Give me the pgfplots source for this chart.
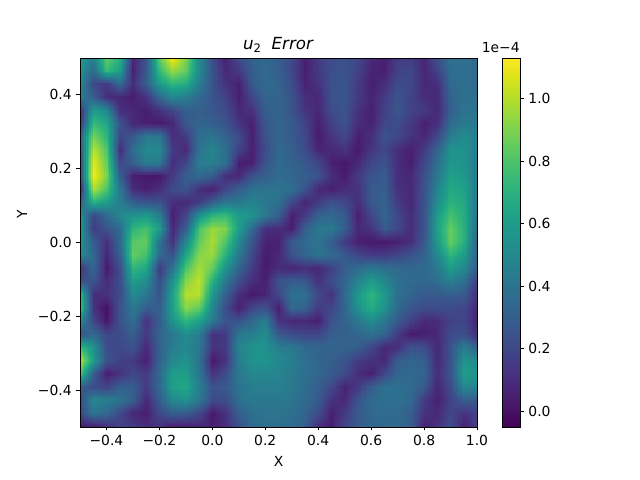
\documentclass[border=0pt]{standalone}
\usepackage{fontspec}
\setmainfont{DejaVu Sans}
\usepackage{pgfplots}
\pgfplotsset{compat=1.18}
\usepgfplotslibrary{patchplots}
\begin{document}
\begin{tikzpicture}[x=1pt,y=1pt]
\useasboundingbox (0,0) rectangle (460.8,345.6);
\begin{axis}[
  at={(57.6pt,38.16pt)},anchor=south west,
  scale only axis,width=285.84pt,height=265.68pt,
  view={0}{90},
  xmin=-0.5,xmax=1.0,ymin=-0.5,ymax=0.5,
  xtick={-0.4,-0.2,0,0.2,0.4,0.6,0.8,1.0},
  xticklabels={−0.4,−0.2,0.0,0.2,0.4,0.6,0.8,1.0},
  ytick={-0.4,-0.2,0,0.2,0.4},
  yticklabels={−0.4,−0.2,0.0,0.2,0.4},
  tick align=outside,tick pos=left,
  major tick length=2.52pt,
  tick style={black,line width=0.6pt},
  axis line style={line width=0.6pt},
  tick label style={font=\fontsize{10}{12}\selectfont},
  colormap name=viridis,
  point meta min=-0.05,point meta max=1.13,
  axis on top,
  colorbar,
  colorbar style={
    at={(1.063,0)},anchor=south west,
    width=12.96pt,height=265.68pt,
    ytick={0,0.2,0.4,0.6,0.8,1.0},
    yticklabels={0.0,0.2,0.4,0.6,0.8,1.0},
    tick pos=right,tick align=outside,major tick length=2.52pt,
    tick style={black,line width=0.6pt},
    axis line style={line width=0.6pt},
    yticklabel style={font=\fontsize{10}{12}\selectfont},
  },
]
\addplot3[surf,shader=interp,patch type=bilinear,mesh/rows=29,mesh/cols=31]
 table[row sep=\\,x expr={(\coordindex-31*floor((\coordindex+0.5)/31))/30*1.5-0.5},y expr={0.5-floor((\coordindex+0.5)/31)/28},z=z]{
z\\
.62\\.45\\.85\\.7\\.08\\.25\\.85\\1.13\\.9\\.5\\.22\\.05\\.22\\.32\\.36\\.3\\.2\\.05\\.15\\.22\\.24\\.2\\.08\\.05\\.15\\.15\\.07\\.25\\.38\\.38\\.35\\
.55\\.35\\.75\\.6\\.05\\.28\\.75\\.95\\.85\\.5\\.25\\.08\\.15\\.3\\.35\\.3\\.2\\.05\\.15\\.23\\.25\\.18\\.07\\.05\\.18\\.2\\.07\\.18\\.37\\.38\\.35\\
.5\\.2\\.15\\.35\\.1\\.3\\.6\\.72\\.68\\.45\\.25\\.12\\.05\\.28\\.35\\.32\\.22\\.06\\.12\\.24\\.26\\.15\\.05\\.1\\.22\\.2\\.08\\.1\\.35\\.38\\.35\\
.45\\.3\\.1\\.08\\.05\\.12\\.35\\.5\\.45\\.35\\.25\\.18\\.05\\.2\\.33\\.33\\.25\\.1\\.08\\.24\\.26\\.15\\.06\\.15\\.25\\.18\\.1\\.08\\.33\\.38\\.37\\
.1\\.6\\.5\\.1\\.08\\.05\\.12\\.2\\.3\\.3\\.27\\.22\\.08\\.12\\.3\\.32\\.25\\.13\\.08\\.22\\.25\\.12\\.05\\.17\\.27\\.18\\.15\\.08\\.3\\.4\\.38\\
.1\\.75\\.65\\.25\\.08\\.05\\.03\\.08\\.27\\.33\\.3\\.25\\.12\\.05\\.27\\.33\\.28\\.18\\.05\\.18\\.25\\.1\\.06\\.2\\.22\\.15\\.05\\.1\\.35\\.43\\.42\\
.3\\.9\\.72\\.2\\.28\\.42\\.42\\.1\\.15\\.38\\.4\\.32\\.22\\.05\\.25\\.33\\.28\\.2\\.03\\.13\\.2\\.05\\.1\\.25\\.2\\.12\\.08\\.2\\.45\\.52\\.45\\
.25\\1.02\\.8\\.1\\.38\\.5\\.5\\.15\\.08\\.4\\.48\\.38\\.18\\.05\\.22\\.35\\.3\\.22\\.07\\.08\\.12\\.03\\.13\\.2\\.1\\.05\\.15\\.32\\.55\\.55\\.45\\
.2\\1.1\\.85\\.2\\.3\\.45\\.42\\.1\\.2\\.45\\.45\\.38\\.05\\.05\\.25\\.35\\.32\\.27\\.2\\.05\\.03\\.08\\.2\\.25\\.1\\.05\\.2\\.38\\.58\\.55\\.42\\
.2\\1.13\\.9\\.3\\.05\\.03\\.03\\.15\\.3\\.35\\.3\\.1\\.08\\.25\\.3\\.36\\.33\\.3\\.25\\.1\\.03\\.15\\.25\\.28\\.1\\.08\\.23\\.42\\.62\\.58\\.42\\
.05\\1.0\\.8\\.42\\.1\\.05\\.1\\.22\\.25\\.1\\.05\\.2\\.3\\.38\\.4\\.4\\.37\\.25\\.08\\.05\\.1\\.12\\.28\\.3\\.12\\.08\\.25\\.48\\.66\\.62\\.42\\
.3\\.7\\.6\\.45\\.3\\.25\\.25\\.1\\.08\\.15\\.3\\.42\\.42\\.48\\.42\\.38\\.2\\.07\\.15\\.25\\.2\\.1\\.27\\.32\\.15\\.08\\.25\\.52\\.7\\.66\\.4\\
.55\\.2\\.35\\.5\\.55\\.6\\.45\\.05\\.2\\.55\\.72\\.75\\.6\\.55\\.42\\.3\\.05\\.15\\.32\\.35\\.28\\.05\\.2\\.33\\.2\\.1\\.25\\.6\\.78\\.68\\.38\\
.6\\.15\\.25\\.35\\.72\\.78\\.6\\.08\\.3\\.8\\.95\\.9\\.6\\.35\\.1\\.1\\.05\\.3\\.42\\.42\\.3\\.08\\.12\\.28\\.2\\.1\\.25\\.62\\.85\\.7\\.35\\
.55\\.3\\.1\\.35\\.82\\.85\\.38\\.12\\.5\\.85\\.98\\.8\\.5\\.25\\.06\\.05\\.28\\.35\\.4\\.3\\.15\\.05\\.03\\.03\\.05\\.1\\.28\\.58\\.85\\.7\\.3\\
.5\\.35\\.08\\.3\\.85\\.78\\.35\\.25\\.65\\.92\\.95\\.7\\.42\\.2\\.03\\.08\\.25\\.33\\.4\\.35\\.28\\.2\\.15\\.15\\.2\\.25\\.32\\.5\\.72\\.6\\.3\\
.1\\.35\\.03\\.22\\.72\\.65\\.15\\.4\\.8\\.98\\.85\\.55\\.33\\.15\\.03\\.1\\.07\\.1\\.07\\.18\\.3\\.36\\.42\\.38\\.35\\.34\\.35\\.42\\.6\\.5\\.28\\
.25\\.25\\.1\\.22\\.6\\.52\\.22\\.55\\.92\\1.02\\.7\\.42\\.22\\.1\\.05\\.25\\.3\\.28\\.12\\.22\\.33\\.48\\.6\\.5\\.38\\.36\\.34\\.37\\.45\\.38\\.15\\
.75\\.1\\.12\\.22\\.5\\.42\\.25\\.62\\1.0\\1.0\\.58\\.3\\.1\\.03\\.07\\.2\\.38\\.38\\.2\\.12\\.35\\.58\\.72\\.58\\.38\\.32\\.28\\.28\\.3\\.28\\.1\\
.8\\.12\\0\\.25\\.42\\.3\\.3\\.62\\.92\\.85\\.5\\.22\\.05\\.2\\.25\\.05\\.35\\.32\\.15\\.2\\.33\\.55\\.68\\.55\\.35\\.26\\.22\\.22\\.22\\.2\\.08\\
.5\\.2\\.02\\.25\\.38\\.12\\.3\\.55\\.72\\.62\\.42\\.25\\.25\\.35\\.45\\.12\\.08\\.08\\.05\\.25\\.32\\.42\\.52\\.42\\.28\\.18\\.08\\.1\\.18\\.2\\.05\\
.25\\.35\\.2\\.22\\.3\\.15\\.32\\.42\\.52\\.45\\.12\\.15\\.42\\.45\\.52\\.28\\.22\\.2\\.2\\.3\\.3\\.33\\.38\\.33\\.15\\.03\\.05\\.08\\.22\\.22\\.1\\
.75\\.55\\.22\\.2\\.25\\.08\\.32\\.45\\.5\\.42\\.12\\.15\\.48\\.55\\.55\\.45\\.42\\.35\\.33\\.33\\.32\\.3\\.2\\.08\\.1\\.25\\.22\\.08\\.25\\.45\\.3\\
1.0\\.6\\.25\\.18\\.15\\.05\\.32\\.5\\.55\\.4\\.03\\.12\\.45\\.55\\.55\\.5\\.45\\.38\\.33\\.3\\.25\\.15\\.12\\.08\\.3\\.33\\.3\\.08\\.25\\.55\\.5\\
.8\\.3\\.05\\.12\\.2\\.15\\.35\\.6\\.6\\.42\\.12\\.22\\.42\\.5\\.5\\.48\\.43\\.38\\.33\\.28\\.22\\.1\\.05\\.2\\.33\\.35\\.32\\.1\\.25\\.6\\.55\\
.3\\.22\\.18\\.3\\.3\\.15\\.35\\.62\\.65\\.45\\.25\\.28\\.4\\.45\\.45\\.45\\.42\\.37\\.3\\.2\\.06\\.15\\.3\\.38\\.38\\.35\\.28\\.07\\.22\\.5\\.48\\
.2\\.5\\.45\\.4\\.3\\.08\\.3\\.5\\.55\\.42\\.22\\.22\\.38\\.42\\.42\\.42\\.4\\.35\\.28\\.12\\.08\\.25\\.35\\.38\\.38\\.35\\.15\\.05\\.18\\.3\\.28\\
.2\\.4\\.35\\.2\\.08\\.05\\.2\\.3\\.28\\.2\\.03\\.12\\.3\\.38\\.4\\.4\\.38\\.33\\.22\\.05\\.15\\.28\\.35\\.36\\.36\\.3\\.12\\.08\\.2\\.12\\.18\\
.03\\.05\\.1\\.18\\.15\\.1\\.12\\.05\\.05\\.08\\.05\\.1\\.25\\.35\\.38\\.38\\.35\\.3\\.1\\.05\\.2\\.28\\.33\\.35\\.35\\.3\\.05\\.12\\.22\\.06\\.18\\
};
\end{axis}
\node[font=\fontsize{12}{14}\selectfont,anchor=base,inner sep=0pt] at (200.2,310) {\itshape u\raisebox{-0.35ex}{\fontsize{8.4}{9}\selectfont\upshape 2}\ \ Error};
\node[font=\fontsize{10}{12}\selectfont,anchor=base,inner sep=0pt] at (200.7,9.5) {X};
\node[font=\fontsize{10}{12}\selectfont,anchor=base,rotate=90,inner sep=0pt] at (19.5,191) {Y};
\node[font=\fontsize{10}{12}\selectfont,anchor=base east,inner sep=0pt] at (374.4,307.5) {1e−4};
\end{tikzpicture}
\end{document}
